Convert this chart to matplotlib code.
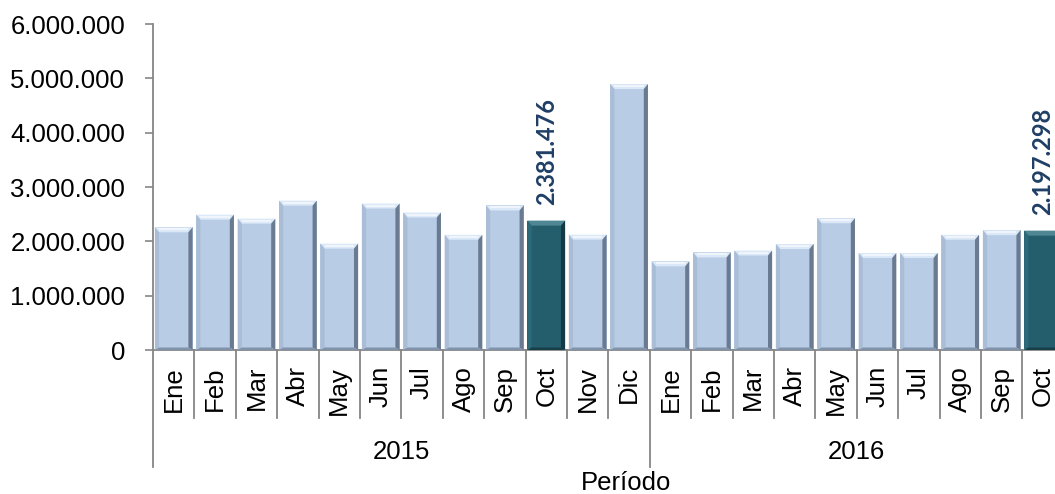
import numpy as np
import matplotlib
matplotlib.use('Agg')
import matplotlib.pyplot as plt
from matplotlib.patches import Polygon
from matplotlib.transforms import blended_transform_factory

# Monthly values
months = ['Ene', 'Feb', 'Mar', 'Abr', 'May', 'Jun', 'Jul', 'Ago', 'Sep', 'Oct', 'Nov', 'Dic',
          'Ene', 'Feb', 'Mar', 'Abr', 'May', 'Jun', 'Jul', 'Ago', 'Sep', 'Oct']
years = ['2015', '2016']
values_2015 = [2258000, 2490000, 2417000, 2748000, 1957000, 2695000, 2530000, 2120000,
               2660000, 2381476, 2122000, 4895000]
values_2016 = [1632000, 1795000, 1830000, 1950000, 2425000, 1785000, 1785000, 2120000,
               2205000, 2197298]
highlight = [9, 21]  # Oct 2015, Oct 2016

values = values_2015 + values_2016
year_sizes = [len(values_2015), len(values_2016)]

plt.rcParams['font.family'] = ['Liberation Sans', 'DejaVu Sans']

W, H = 1055, 494
fig = plt.figure(figsize=(W / 100, H / 100), dpi=100)
ax_left, ax_bottom, ax_top = 153, 350, 24
cat_w = 41.4
n = len(values)
ax = fig.add_axes([ax_left / W, (H - ax_bottom) / H, n * cat_w / W, (ax_bottom - ax_top) / H])

x = np.arange(n)
bar_w = 0.91
light = '#b8cce6'
dark = '#245e6c'
grey = '#868686'

ax.set_xlim(-0.5, n - 0.5)
ax.set_ylim(0, 6000000)

# bevel thickness in data units
bx = 0.1
by = 5 / (ax_bottom - ax_top) * 6000000

for i, v in enumerate(values):
    hl = i in highlight
    x0, x1 = i - bar_w / 2, i + bar_w / 2
    ax.bar(i, v, width=bar_w, color=dark if hl else light, edgecolor='none', zorder=2)
    if hl:
        top_c, left_c, right_c, bot_c = '#4f8795', '#2d6a79', '#133a45', '#173f4a'
    else:
        top_c, left_c, right_c, bot_c = '#dae8f7', '#a9bdd7', '#6a7a90', '#8193ab'
    # top bevel
    ax.add_patch(Polygon([(x0, v), (x1, v), (x1 - bx, v - by), (x0 + bx, v - by)],
                         closed=True, color=top_c, lw=0, zorder=3))
    # left bevel
    ax.add_patch(Polygon([(x0, v), (x0 + bx, v - by), (x0 + bx, by * 0.5), (x0, 0)],
                         closed=True, color=left_c, lw=0, zorder=3))
    # right bevel
    ax.add_patch(Polygon([(x1, v), (x1 - bx, v - by), (x1 - bx, by * 0.5), (x1, 0)],
                         closed=True, color=right_c, lw=0, zorder=3))
    # bottom bevel
    ax.add_patch(Polygon([(x0, 0), (x1, 0), (x1 - bx, by * 0.5), (x0 + bx, by * 0.5)],
                         closed=True, color=bot_c, lw=0, zorder=3))
    if not hl:
        # highlight line under top bevel
        ax.plot([x0 + bx, x1 - bx], [v - by * 0.4, v - by * 0.4], color='white', lw=1.2,
                alpha=0.7, zorder=4, solid_capstyle='butt')

for i in highlight:
    lbl = f'{values[i]:,}'.replace(',', '.')
    ax.annotate(lbl, (i, values[i]), xytext=(0, 11), textcoords='offset points',
                rotation=90, ha='center', va='bottom', fontsize=17, fontweight='bold',
                color='#1f3f66', family=['Lato', 'DejaVu Sans'], annotation_clip=False)

# y axis
ax.set_yticks(np.arange(0, 6000001, 1000000))
ax.set_yticklabels([f'{int(t):,}'.replace(',', '.') for t in ax.get_yticks()])
ax.tick_params(axis='y', length=6, width=1.2, color=grey, labelsize=18.5, pad=14)
ax.set_xticks([])
for s in ['top', 'right']:
    ax.spines[s].set_visible(False)
for s in ['left', 'bottom']:
    ax.spines[s].set_color(grey)
    ax.spines[s].set_linewidth(1.3)

# multi-level category axis
trans = blended_transform_factory(ax.transData, ax.transAxes)
ph = ax_bottom - ax_top
month_sep = -(418 - ax_bottom) / ph
year_sep = -(467 - ax_bottom) / ph
month_y = -(366 - ax_bottom) / ph
year_y = -(452 - ax_bottom) / ph

year_starts = np.cumsum([0] + year_sizes)
for b in range(n + 1):
    bottom = year_sep if b in year_starts else month_sep
    ax.plot([b - 0.5, b - 0.5], [0, bottom], transform=trans, color=grey, lw=1.3,
            clip_on=False, zorder=1)

for i, m in enumerate(months):
    ax.text(i, month_y, m, transform=trans, rotation=90, ha='center', va='top', fontsize=18.5)

for k, yr in enumerate(years):
    cx = (year_starts[k] + year_starts[k + 1] - 1) / 2
    ax.text(cx, year_y, yr, transform=trans, ha='center', va='center', fontsize=18.5)

fig.text(626 / W, 1 - 483 / H, 'Período', ha='center', va='center', fontsize=18.5)

fig.savefig('out.png', dpi=100)
